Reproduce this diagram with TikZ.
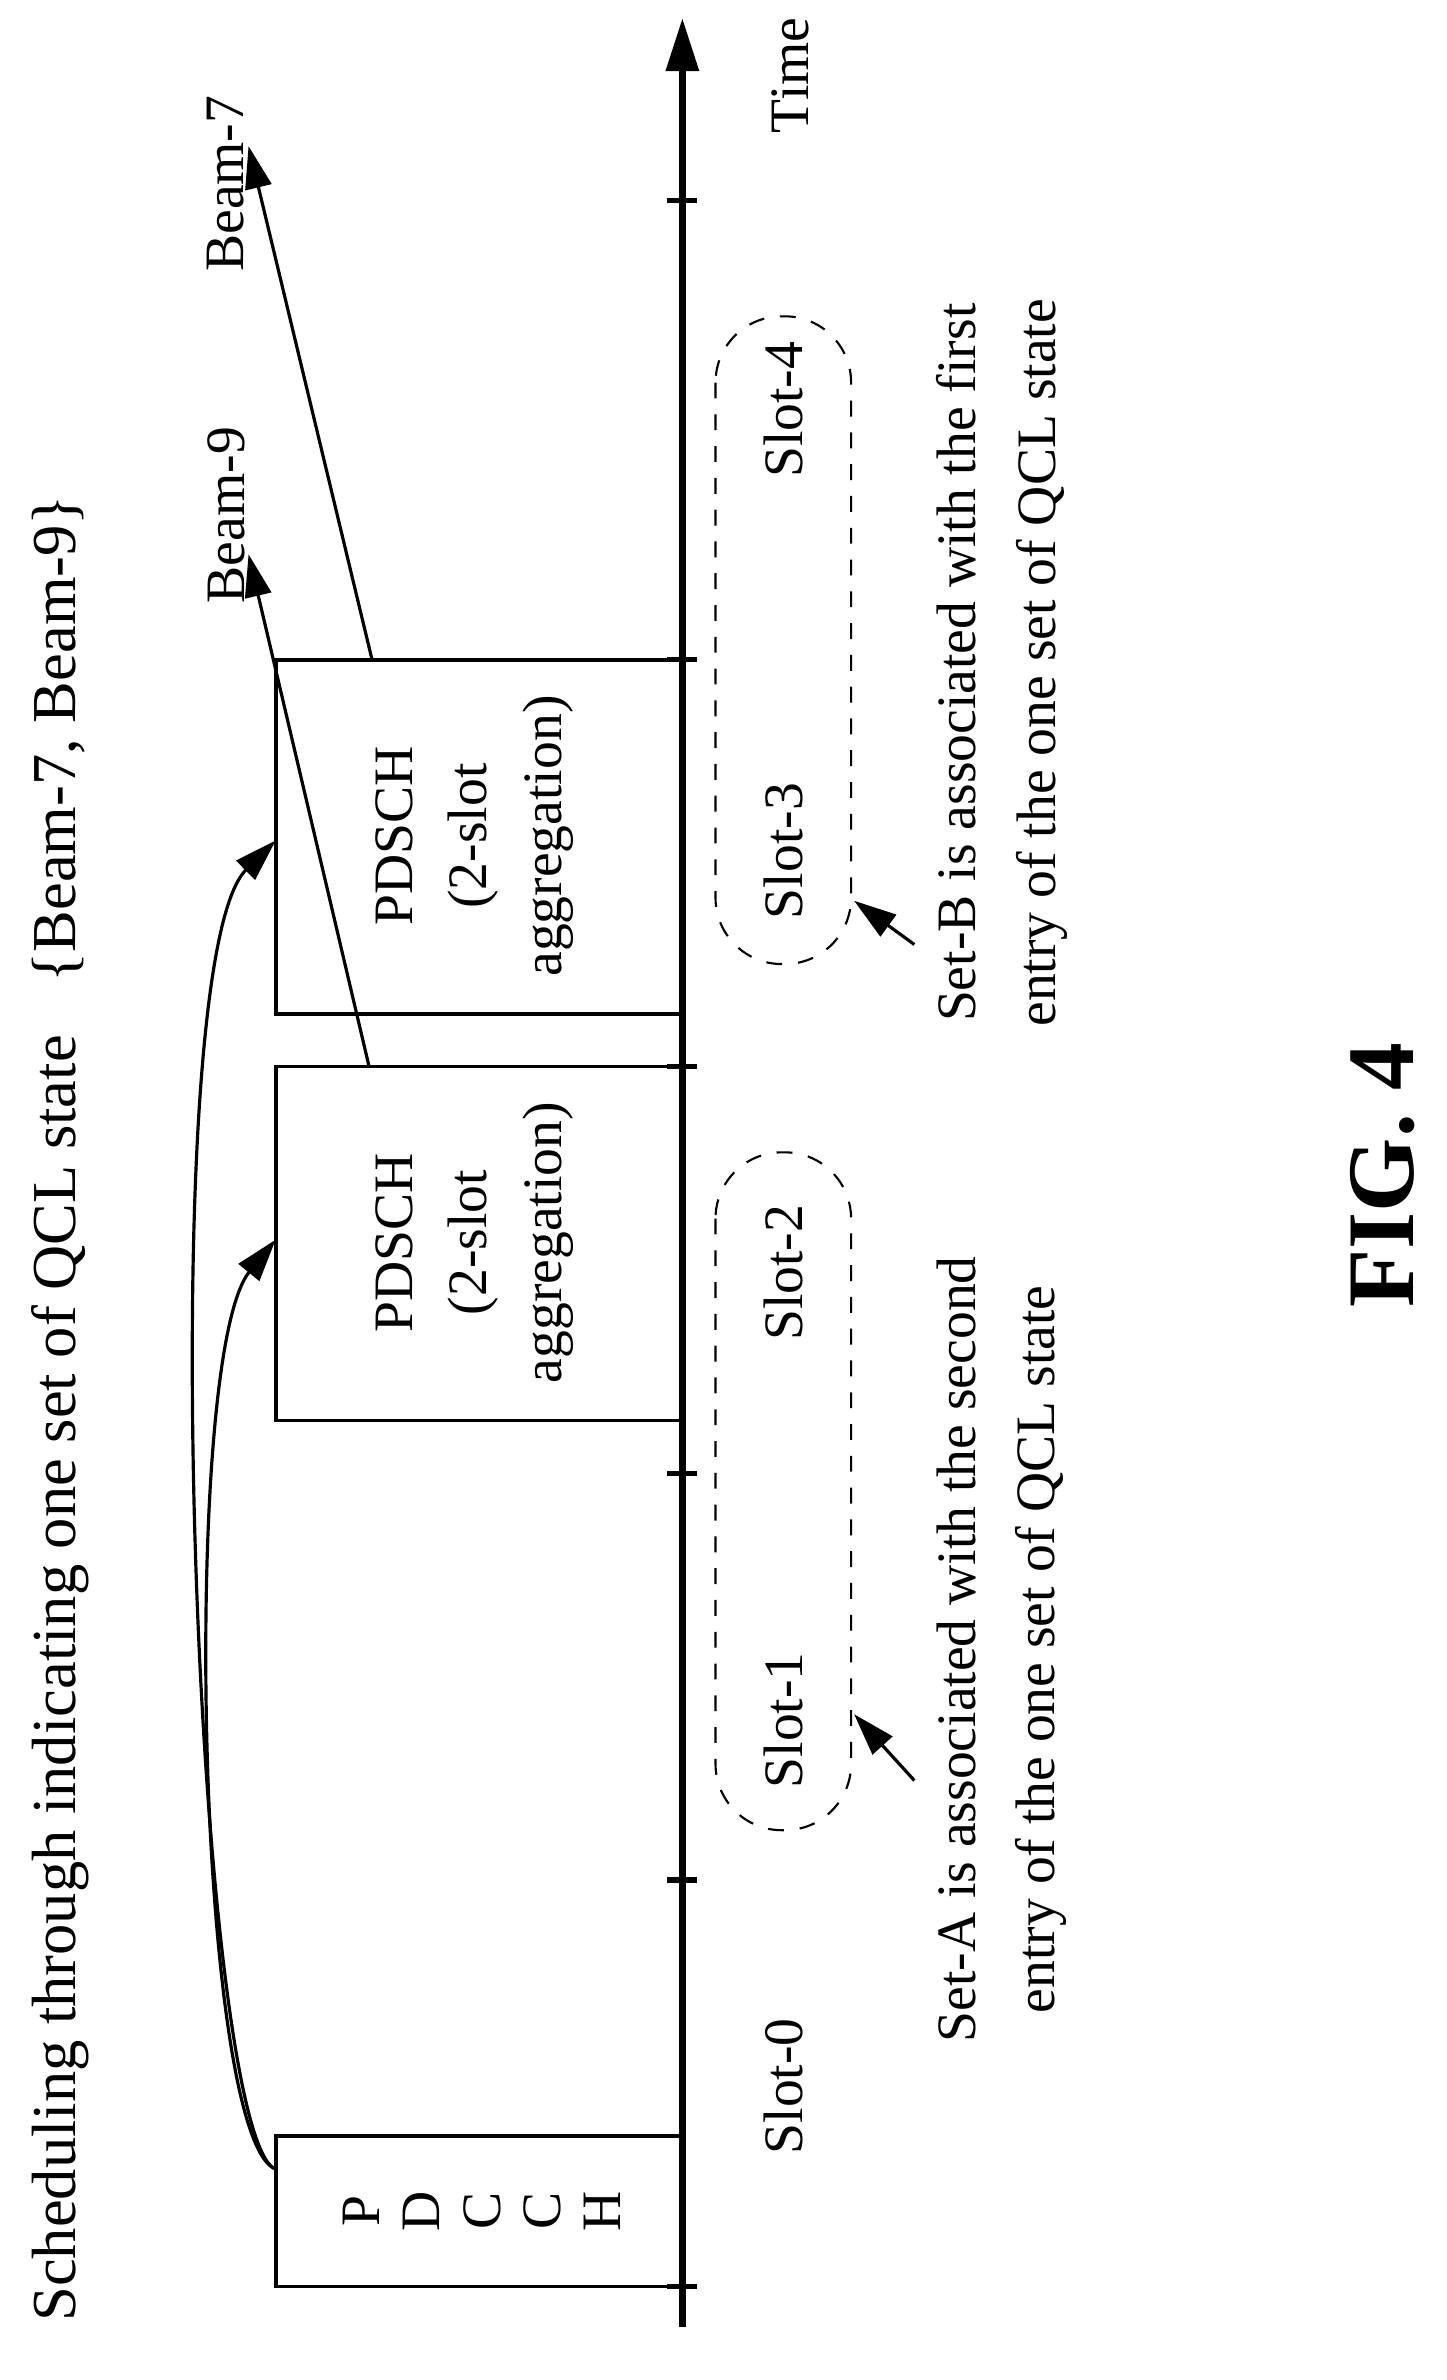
\documentclass[tikz,border=0pt]{standalone}
\usepackage{fontspec}
\setmainfont{Liberation Serif}
\usetikzlibrary{arrows.meta}
\begin{document}
\begin{tikzpicture}[x=0.01cm,y=-0.01cm,
 txt/.style={rotate=90,font=\fontsize{10.5}{12}\selectfont,inner sep=0pt},
 box/.style={draw,line width=0.7pt},
 arr/.style={-{Triangle[length=8pt,width=5pt]},line width=0.6pt},
 tick/.style={line width=1pt}]
\useasboundingbox (0,0) rectangle (960,1580);
% axis
\coordinate (a0) at (453,1545);
\coordinate (a1) at (453,12);
\draw[line width=1.3pt,-{Triangle[length=10pt,width=6pt]}] (a0) -- (a1);
\foreach \y in {1518,1248,978,708,438,133}{\draw[tick] (443,\y) -- (463,\y);}
\node[txt] (time) at (525,50) {Time};
% boxes
\draw[box] (453,1418) rectangle (183,1518);
\foreach \l/\x in {P/240,D/280,C/320,C/360,H/400}{\node[txt] at (\x,1468) {\l};}
\draw[box] (453,708) rectangle (183,943);
\draw[box] (453,438) rectangle (183,673);
\node[txt,align=center] (p1) at (315,825) {PDSCH\\[2pt](2-slot\\[2pt]aggregation)};
\node[txt,align=center] (p2) at (315,555) {PDSCH\\[2pt](2-slot\\[2pt]aggregation)};
% dashed groups
\draw[dashed,rounded corners=12.5pt] (475,765) rectangle (565,1215);
\draw[dashed,rounded corners=12.5pt] (475,210) rectangle (565,640);
\node[txt] (s0) at (520,1385) {Slot-0};
\node[txt] (s1) at (520,1142) {Slot-1};
\node[txt] (s2) at (520,845) {Slot-2};
\node[txt] (s3) at (520,565) {Slot-3};
\node[txt] (s4) at (520,272) {Slot-4};
% title
\node[txt,anchor=west,font=\fontsize{11.8}{13}\selectfont] (title) at (40,1542) {Scheduling through indicating one set of QCL state\hspace{10pt}\{Beam-7, Beam-9\}};
\node[txt] (b7) at (150,122) {Beam-7};
\node[txt] (b9) at (150,342) {Beam-9};
% curves
\coordinate (c0) at (183,1440);
\draw[arr] (c0) .. controls (130,1420) and (120,900) .. (183,823);
\draw[arr] (c0) .. controls (130,1420) and (100,640) .. (183,558);
% beams
\draw[arr] (245,708) -- (165,368);
\draw[arr] (247,438) -- (165,97);
% set notes
\draw[arr] (607,1182) -- (567,1138);
\draw[arr] (607,627) -- (567,598);
\node[txt,align=center] (sa) at (665,1095) {Set-A is associated with the second\\[3pt]entry of the one set of QCL state};
\node[txt,align=center] (sb) at (665,440) {Set-B is associated with the first\\[3pt]entry of the one set of QCL state};
\node[rotate=90,font=\bfseries\fontsize{18}{20}\selectfont] (fig) at (918,780) {FIG. 4};
\end{tikzpicture}
\end{document}
